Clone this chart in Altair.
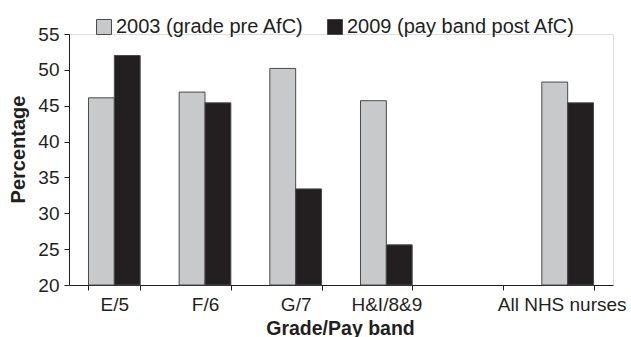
import altair as alt
import pandas as pd

categories = ["E/5", "F/6", "G/7", "H&I/8&9", " ", "All NHS nurses"]
series = ["2003 (grade pre AfC)", "2009 (pay band post AfC)"]
v2003 = [46.1, 46.9, 50.2, 45.7, None, 48.3]
v2009 = [52.0, 45.4, 33.4, 25.6, None, 45.4]
y_ticks = [20, 25, 30, 35, 40, 45, 50, 55]

rows = []
for c, a, b in zip(categories, v2003, v2009):
    if a is not None:
        rows.append({"cat": c, "series": series[0], "value": a})
    if b is not None:
        rows.append({"cat": c, "series": series[1], "value": b})
df = pd.DataFrame(rows)

FONT = "Liberation Sans"
INK = "#231f20"

chart = alt.Chart(df).mark_bar(stroke="#4a4a4a", strokeWidth=1).encode(
    x=alt.X(
        "cat:N",
        scale=alt.Scale(domain=categories, paddingInner=0.43, paddingOuter=0.215),
        axis=alt.Axis(
            title="Grade/Pay band",
            labelAngle=0,
            tickBand="extent",
            tickSize=5,
            labelPadding=5,
            labelOffset={"condition": {"test": "datum.value == 'All NHS nurses'", "value": -6}, "value": 0},
            labelFontSize=19,
            labelFont=FONT,
            labelColor=INK,
            domainColor=INK,
            tickColor=INK,
            titleFont=FONT,
            titleFontSize=19.5,
            titleFontWeight="bold",
            titleColor=INK,
            titleX=271,
            titleY=49,
            titleAlign="center",
            titleBaseline="alphabetic",
        ),
    ),
    xOffset=alt.XOffset("series:N", scale=alt.Scale(domain=series)),
    y=alt.Y(
        "value:Q",
        scale=alt.Scale(domain=[20, 55], zero=False, clamp=True, nice=False),
        axis=alt.Axis(
            title="Percentage",
            values=y_ticks,
            grid=False,
            tickSize=5,
            labelPadding=5,
            labelFontSize=19,
            labelFont=FONT,
            labelColor=INK,
            domainColor=INK,
            tickColor=INK,
            titleFont=FONT,
            titleFontSize=20,
            titleFontWeight="bold",
            titleColor=INK,
            titleAngle=-90,
            titleX=-45,
            titleY=115,
            titleAlign="center",
            titleBaseline="alphabetic",
        ),
    ),
    y2=alt.datum(20),
    color=alt.Color(
        "series:N",
        scale=alt.Scale(domain=series, range=["#c8c9cb", INK]),
        legend=alt.Legend(
            title=None,
            orient="none",
            legendX=25,
            legendY=-17,
            direction="horizontal",
            symbolType="square",
            symbolSize=225,
            symbolStrokeColor="#4a4a4a",
            symbolStrokeWidth=1,
            symbolOpacity=1,
            labelFont=FONT,
            labelFontSize=20,
            labelColor=INK,
            labelOffset=2,
            labelLimit=400,
            columnPadding=21,
            padding=0,
        ),
    ),
).properties(
    width=544,
    height=251,
    autosize=alt.AutoSizeParams(type="none"),
    padding={"left": 69, "top": 34, "right": 18, "bottom": 52},
).configure_view(stroke=None).configure(background="white")

chart.save("out.html", embed_options={"renderer": "svg", "actions": False})
